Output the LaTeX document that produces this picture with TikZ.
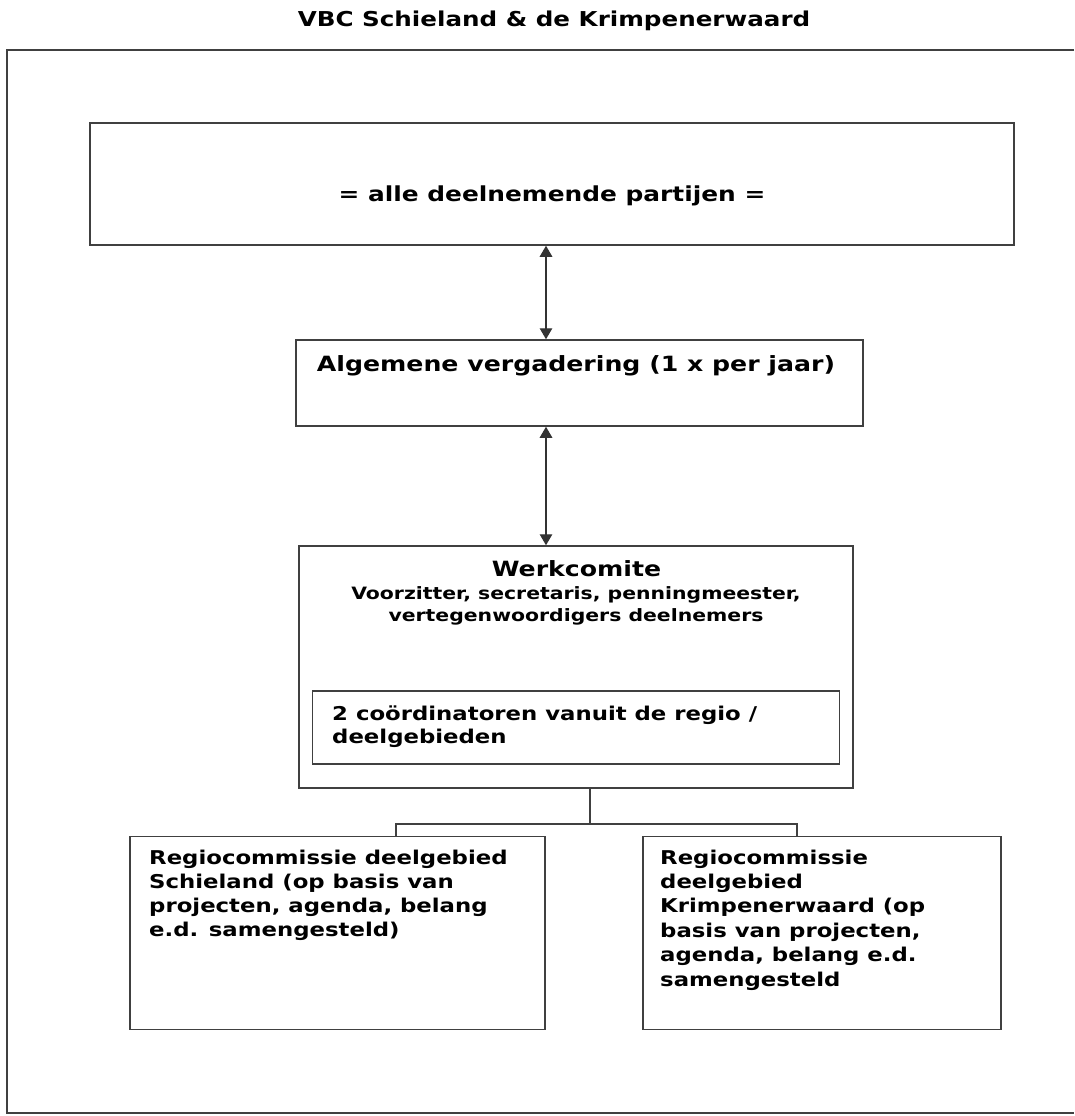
\documentclass[tikz,border=0pt]{standalone}
\usepackage{fontspec}
\usetikzlibrary{arrows.meta}
\newfontfamily\vf{DejaVu Sans}[FakeStretch=1.2]
\newcommand{\fs}[2]{\fontsize{#1}{#2}\selectfont}
\tikzset{
  box/.style={draw=black!75, line width=1.5pt, inner sep=0pt, fill=none},
  txt/.style={inner sep=0pt, font=\vf\bfseries, text=black},
  link/.style={draw=black!75, line width=1.4pt},
  arr/.style={draw=black!80, line width=1.3pt, {Triangle[length=11pt,width=12.5pt]}-{Triangle[length=11pt,width=12.5pt]}}
}
\begin{document}
\begin{tikzpicture}[x=1pt,y=-1pt]
\useasboundingbox (0,0) rectangle (1074,1116);
% outer frame (right side runs off the picture)
\draw[draw=black!75, line width=1.6pt] (1074,50) -- (7,50) -- (7,1113) -- (1074,1113);
% title
\node[txt, anchor=base] (title) at (554,27) {\fs{20.5}{24}VBC Schieland \& de Krimpenerwaard};
% boxes
\node[box, minimum width=924pt, minimum height=122pt] (b1) at (552,184) {};
\node[box, minimum width=567pt, minimum height=86pt] (b2) at (579.4,383) {};
\node[box, minimum width=554pt, minimum height=242pt] (b3) at (576,667) {};
\node[box, minimum width=527pt, minimum height=73pt] (b3in) at (576,727.5) {};
\node[box, minimum width=415pt, minimum height=193pt] (bL) at (337.5,933) {};
\node[box, minimum width=358pt, minimum height=193pt] (bR) at (822,933) {};
% texts
\node[txt, anchor=base] (t1) at (552,201.7) {\fs{20.7}{24}= alle deelnemende partijen =};
\node[txt, anchor=base] (t2) at (576,371.7) {\fs{21}{24}Algemene vergadering (1 x per jaar)};
\node[txt, anchor=base] (t3) at (576.5,576) {\fs{21}{24}Werkcomite};
\node[txt, anchor=base] (t3a) at (576,599.3) {\fs{17}{21.7}\begin{tabular}[t]{@{}c@{}}Voorzitter, secretaris, penningmeester,\\ vertegenwoordigers deelnemers\end{tabular}};
\node[txt, anchor=base west] (t3b) at (332,720) {\fs{19}{23}\begin{tabular}[t]{@{}l@{}}2 coördinatoren vanuit de regio /\\ deelgebieden\end{tabular}};
\node[txt, anchor=base west] (tL) at (149,864) {\fs{19}{24.2}\begin{tabular}[t]{@{}l@{}}Regiocommissie deelgebied\\ Schieland (op basis van\\ projecten, agenda, belang\\ e.d. samengesteld)\end{tabular}};
\node[txt, anchor=base west] (tR) at (660,864) {\fs{19}{24.4}\begin{tabular}[t]{@{}l@{}}Regiocommissie\\ deelgebied\\ Krimpenerwaard (op\\ basis van projecten,\\ agenda, belang e.d.\\ samengesteld\end{tabular}};
% connectors
\coordinate (ax) at (546,0);
\draw[arr] (ax |- b1.south) -- (ax |- b2.north);
\draw[arr] (ax |- b2.south) -- (ax |- b3.north);
\coordinate (jc) at (590,824);
\coordinate (jl) at (396,824);
\coordinate (jr) at (797,824);
\draw[link] (jc |- b3.south) -- (jc);
\draw[link] (jl |- bL.north) -- (jl) -- (jr) -- (jr |- bR.north);
\end{tikzpicture}
\end{document}
